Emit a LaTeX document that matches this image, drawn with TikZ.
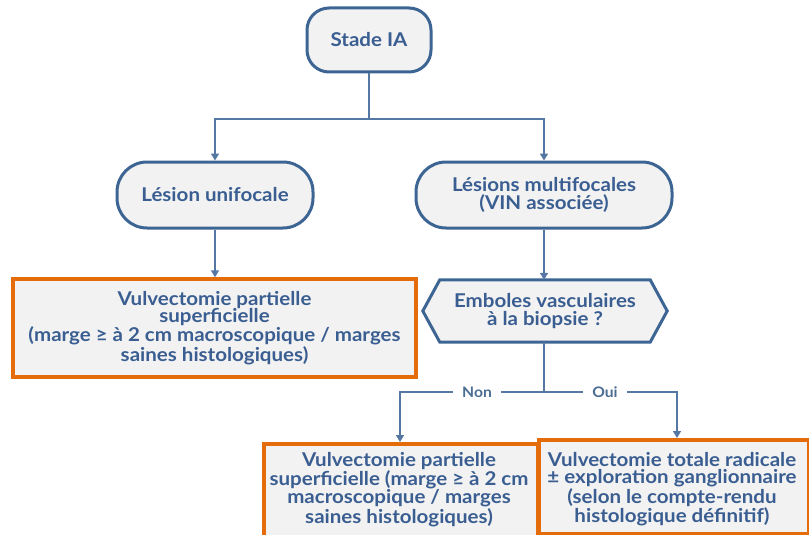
\documentclass[tikz,border=0pt]{standalone}
\usepackage{fontspec}
\setmainfont{Lato}[FakeStretch=1.08]
\usetikzlibrary{arrows.meta,calc}
\definecolor{bstroke}{HTML}{3D6594}
\definecolor{btext}{HTML}{3A5E91}
\definecolor{conn}{HTML}{5478A3}
\definecolor{bfill}{HTML}{F2F2F2}
\definecolor{orng}{HTML}{E46C0A}
\begin{document}
\begin{tikzpicture}[x=1pt,y=-1pt,
  txt/.style={font=\bfseries\fontsize{19}{17.5}\selectfont, text=btext, align=center, inner sep=0pt},
  pill/.style={txt, draw=bstroke, line width=3pt, fill=bfill, rounded corners=30pt},
  obox/.style={txt, draw=orng, line width=3.5pt, fill=bfill},
  conline/.style={draw=conn, line width=1.6pt},
  arr/.style={conline, -{Triangle[width=8pt,length=7pt]}},
  lbl/.style={font=\bfseries\fontsize{14.5}{14}\selectfont, text=conn!90!black, fill=white, inner xsep=9pt, inner ysep=2pt}]
\useasboundingbox (0,0) rectangle (809,535);
\fill[white] (0,0) rectangle (809,535);

\node[pill, minimum width=124pt, minimum height=64pt, rounded corners=22pt] (stade) at (369,40) {Stade IA};
\node[pill, minimum width=196pt, minimum height=66pt] (unif) at (215,195) {Lésion unifocale};
\node[pill, minimum width=256pt, minimum height=66pt] (multi) at (544,195) {Lésions multifocales\\(VIN associée)};

\node[obox, minimum width=403pt, minimum height=98pt] (box1) at (214.5,328) {Vulvectomie partielle\\superficielle\\(marge ≥ à 2 cm macroscopique / marges\\saines histologiques)};

\coordinate (hc) at (545,311);
\node[inner sep=0pt, minimum width=244pt, minimum height=62pt] (hex) at (hc) {};
\draw[draw=bstroke, line width=3pt, fill=bfill, line join=miter]
  (hex.west) -- ($(hex.north west)+(17,0)$) -- ($(hex.north east)+(-17,0)$) -- (hex.east)
  -- ($(hex.south east)+(-17,0)$) -- ($(hex.south west)+(17,0)$) -- cycle;
\node[txt] (hextxt) at (hc) {Emboles vasculaires\\à la biopsie ?};

\node[obox, minimum width=274pt, minimum height=100pt, anchor=north west] (box2) at (262,442) {};
\node[txt, anchor=north] (box2txt) at (399,452) {Vulvectomie partielle\\superficielle (marge ≥ à 2 cm\\macroscopique / marges\\saines histologiques)};
\node[obox, minimum width=270pt, minimum height=94pt, anchor=north west] (box3) at (537,438) {};
\node[txt, anchor=north] (box3txt) at (672,452) {Vulvectomie totale radicale\\± exploration ganglionnaire\\(selon le compte-rendu\\histologique définitif)};

\coordinate (j1) at (369,119);
\coordinate (j2) at (544,392);
\coordinate (l2) at (400,392);
\coordinate (r2) at (677,392);

\draw[conline] (stade.south) -- (j1);
\draw[arr] (j1) -| (unif.north);
\draw[arr] (j1) -| (multi.north);
\draw[arr] (unif.south) -- (unif.south |- box1.north);
\draw[arr] (multi.south) -- ($(hex.north)+(-1,0)$);
\draw[conline] ($(hex.south)+(-1,0)$) -- (j2);
\draw[arr] (j2) -- (l2) -- (l2 |- box2.north);
\draw[arr] (j2) -- (r2) -- (r2 |- box3.north);
\node[lbl] (non) at (477,392) {Non};
\node[lbl] (oui) at (605,392) {Oui};
\end{tikzpicture}
\end{document}
